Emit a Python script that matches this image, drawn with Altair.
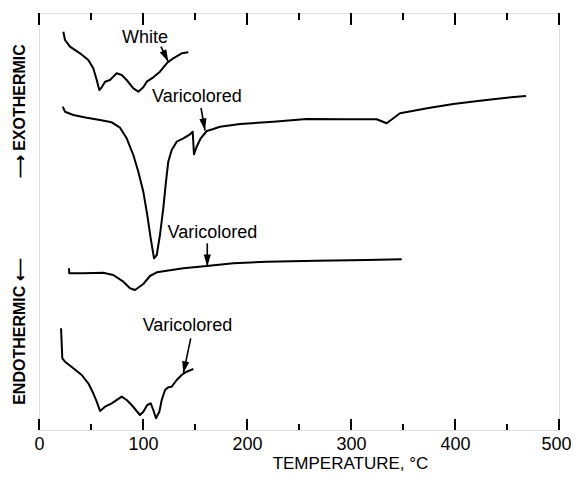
import altair as alt
import pandas as pd

# ---- data (x = temperature in deg C, y = arbitrary signal units) ----
white_T = [23.4, 25, 29.8, 39.4, 47.4, 52.2, 55.5, 58, 60.3, 63.5, 68.3, 74.7, 79.5, 84.3,
           90.7, 95.5, 100.3, 103.6, 109.9, 116.3, 122.8, 129.1, 137.2, 143.6]
white_y = [398.3, 390, 383.3, 376.7, 370, 361.7, 350, 340, 342.7, 348.3, 350, 356.7, 355, 350,
           341.7, 338.3, 342.7, 348.3, 352.7, 358.3, 366.7, 371.7, 376.7, 377.7]

vari1_T = [22.8, 25, 33, 45.9, 58.7, 69.9, 77.9, 84.3, 90.7, 95.5, 100.3, 104.1, 107.4, 110.6,
           113.2, 116.3, 119.5, 122.1, 124.3, 127.6, 132.4, 138.8, 145.2, 147.8, 149, 151.6,
           155.5, 161.3, 167.6, 174, 193.3, 225.3, 257.4, 295.9, 324.7, 334.3, 347.1, 376,
           398.4, 424, 449.7, 468.3]
vari1_y = [323.3, 318.3, 315, 312.3, 310, 307.7, 302.3, 291.7, 275, 258.3, 238.3, 215, 191.7,
           171.7, 175, 195, 221.7, 248.3, 268.3, 280, 288.3, 291.7, 295.7, 298.3, 275.7, 283.3,
           291.7, 299, 301, 303.3, 306, 308.3, 311, 310.7, 310.7, 306.7, 316.7, 322.3, 326,
           329.3, 332.3, 334]

vari2_T = [28.8, 29.1, 42.6, 61.8, 71.4, 81.1, 87.5, 92.3, 100.3, 106.7, 113.2, 122.8, 138.8,
           161.3, 186.8, 218.9, 267, 315.1, 348.8]
vari2_y = [161.7, 156.7, 156.7, 157.3, 155, 148.3, 141.7, 140, 146, 154, 157.7, 159.3, 161.7,
           164, 166.7, 168.3, 169.3, 170, 170.7]

vari3_T = [21.2, 21.8, 22.4, 25, 33, 41.1, 47.4, 52.2, 55.5, 58.7, 63.5, 69.9, 79.5, 84.3, 89.1,
           97.1, 100.3, 104.1, 107.4, 109.9, 112.5, 115.7, 118, 121.2, 124.3, 127.6, 132.4,
           137.2, 142, 148.4]
vari3_y = [101.7, 86.7, 71.7, 68.3, 61.7, 55, 46.7, 36.7, 28.3, 19, 23.3, 26.7, 33.3, 30, 25,
           15, 18.3, 25, 26.7, 20, 11.7, 18.3, 30, 40, 42.7, 43.3, 50, 55, 58.3, 61]

label_text = ["White", "Varicolored", "Varicolored", "Varicolored"]
label_T = [101.9, 151.9, 166.8, 142.8]
label_y = [392.5, 333, 197.5, 104.5]

arrow_T1 = [117.3, 155.8, 161.8, 145.9]
arrow_y1 = [383.3, 322, 186.7, 91.7]
arrow_T2 = [124.3, 159.6, 161.8, 138.8]
arrow_y2 = [368.3, 299.5, 163.5, 56.7]
head_T = [121.8, 158.6, 161.8, 139.9]
head_y = [373.7, 305.4, 169.5, 62.6]
head_angle = [334, 350, 0, 12]

tick_pos = [0, 50, 100, 150, 200, 250, 300, 350, 400, 450, 500]
x_labels = [0, 100, 200, 300, 400, 500]

Y_TOP = 417
FONT = "Liberation Sans"

# ---- tables ----
rows = []
for name, Ts, ys in [("white", white_T, white_y), ("v1", vari1_T, vari1_y),
                     ("v2", vari2_T, vari2_y), ("v3", vari3_T, vari3_y)]:
    for i, (t, v) in enumerate(zip(Ts, ys)):
        rows.append({"curve": name, "i": i, "T": t, "y": v})
curves = pd.DataFrame(rows)

labels = pd.DataFrame({"T": label_T, "y": label_y, "text": label_text})
arrows = pd.DataFrame({"T": arrow_T1, "y": arrow_y1, "T2": arrow_T2, "y2": arrow_y2})
heads = pd.DataFrame({"T": head_T, "y": head_y, "ang": head_angle})

tick_rows = []
for p in tick_pos:
    major = p % 100 == 0
    tick_rows.append({"T": p, "y": 0, "y2": 11 if major else 6})
    tick_rows.append({"T": p, "y": Y_TOP, "y2": Y_TOP - (12 if major else 7)})
ticks = pd.DataFrame(tick_rows)

xscale = alt.Scale(domain=[0, 500], nice=False, zero=False)
yscale = alt.Scale(domain=[0, Y_TOP], nice=False, zero=False)

xaxis = alt.Axis(values=x_labels, ticks=False, domain=False, grid=False,
                 labelFontSize=18, labelFont=FONT, labelColor="black", labelPadding=5,
                 labelFlush=False,
                 labelOffset={"condition": {"test": "datum.value == 500", "value": -3},
                              "value": 0},
                 title="TEMPERATURE, °C", titleFontSize=17, titleFont=FONT,
                 titleFontWeight="normal", titleColor="black",
                 titleX=311, titleY=38, titleBaseline="alphabetic", titleAlign="center")
ytitle = "ENDOTHERMIC\u00a0⟵" + "\u00a0" * 18 + "⟶\u00a0EXOTHERMIC"
yaxis = alt.Axis(labels=False, ticks=False, domain=False, grid=False,
                 title=ytitle, titleFontSize=16, titleFont=FONT, titleFontWeight="bold",
                 titleColor="black", titleAngle=270, titleX=-19.5, titleY=211,
                 titleBaseline="middle", titleAlign="center")

X = alt.X("T:Q", scale=xscale, axis=xaxis)
Y = alt.Y("y:Q", scale=yscale, axis=yaxis)

lines = alt.Chart(curves).mark_line(color="black", strokeWidth=2, strokeJoin="round").encode(
    x=X, y=Y, detail="curve:N", order="i:Q")

tick_layer = alt.Chart(ticks).mark_rule(color="black", strokeWidth=2).encode(
    x=X, y=Y, y2="y2:Q")

arrow_layer = alt.Chart(arrows).mark_rule(color="black", strokeWidth=1.6).encode(
    x=X, y=Y, x2="T2:Q", y2="y2:Q")

head_layer = alt.Chart(heads).mark_point(
    shape="M-0.6,-1L0.6,-1L0,1Z", filled=True, color="black", opacity=1, size=144,
    strokeWidth=0).encode(x=X, y=Y, angle=alt.Angle("ang:Q", scale=None))

text_layer = alt.Chart(labels).mark_text(
    font=FONT, fontSize=18, color="black", baseline="middle", align="center").encode(
    x=X, y=Y, text="text:N")

chart = alt.layer(lines, tick_layer, arrow_layer, head_layer, text_layer).properties(
    width=520, height=Y_TOP,
    padding={"left": 31, "top": 5, "right": 12, "bottom": 42},
    autosize=alt.AutoSizeParams(type="none"),
).configure_view(stroke="black", strokeWidth=2.2).configure(background="white")

chart.save("out.html", embed_options={"renderer": "svg", "actions": False})
